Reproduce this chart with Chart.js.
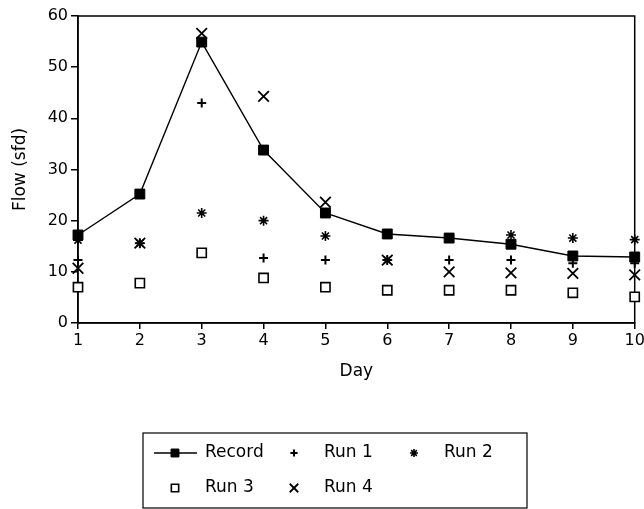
<!DOCTYPE html>
<html>
<head>
<meta charset="utf-8">
<script src="https://cdn.jsdelivr.net/npm/chart.js@4.4.0/dist/chart.umd.min.js"></script>
<style>
  html, body { margin: 0; background: #fff; }
</style>
</head>
<body>
<canvas id="chart" width="644" height="509"></canvas>
<script>
// values
const days = ['1', '2', '3', '4', '5', '6', '7', '8', '9', '10'];
const record = [17.2, 25.2, 54.9, 33.8, 21.5, 17.4, 16.6, 15.4, 13.1, 12.9];
const run1 = [12.3, 15.6, 43.0, 12.7, 12.3, 12.3, 12.3, 12.3, 11.7, 11.7];
const run2 = [16.2, 15.6, 21.5, 20.0, 17.0, 12.3, 16.6, 17.2, 16.6, 16.3];
const run3 = [7.0, 7.8, 13.7, 8.8, 7.0, 6.4, 6.4, 6.4, 5.9, 5.1];
const run4 = [10.7, 15.6, 56.6, 44.3, 23.6, 12.3, 10.0, 9.8, 9.7, 9.4];
const yTicks = [0, 10, 20, 30, 40, 50, 60];

const FONT = 'DejaVu Sans';

function marks(label, data, style, radius, fill, width) {
  return {
    label: label,
    data: data,
    showLine: false,
    borderColor: '#000',
    pointStyle: style,
    pointRadius: radius,
    pointBackgroundColor: fill,
    pointBorderColor: '#000',
    pointBorderWidth: width
  };
}

// box around the plot area (top and right edges included)
const frame = {
  id: 'frame',
  beforeDatasetsDraw(chart) {
    const { ctx, chartArea: a } = chart;
    ctx.save();
    ctx.strokeStyle = '#000';
    ctx.lineWidth = 1.5;
    ctx.strokeRect(a.left, a.top, a.right - a.left, a.bottom - a.top);
    ctx.restore();
  }
};

// boxed legend, 3 columns x 2 rows like the original
const legendBox = {
  id: 'legendBox',
  afterDraw(chart) {
    const ctx = chart.ctx;
    const cols = [175, 294, 414];
    const rows = [453, 488];
    ctx.save();
    ctx.strokeStyle = '#000';
    ctx.lineWidth = 1.2;
    ctx.strokeRect(143, 433, 384, 75);
    ctx.font = '17px "' + FONT + '"';
    ctx.textBaseline = 'middle';
    chart.data.datasets.forEach((ds, i) => {
      const cx = cols[i % 3];
      const cy = rows[Math.floor(i / 3)];
      ctx.strokeStyle = '#000';
      if (ds.showLine !== false) {
        ctx.lineWidth = 1.5;
        ctx.beginPath();
        ctx.moveTo(cx - 21, cy);
        ctx.lineTo(cx + 22, cy);
        ctx.stroke();
      }
      ctx.fillStyle = ds.pointBackgroundColor;
      ctx.lineWidth = ds.pointBorderWidth;
      Chart.helpers.drawPoint(ctx, {
        pointStyle: ds.pointStyle,
        radius: ds.pointRadius * 0.8,
        borderWidth: ds.pointBorderWidth,
        rotation: 0
      }, cx, cy);
      ctx.fillStyle = '#000';
      ctx.fillText(ds.label, cx + 30, cy);
    });
    ctx.restore();
  }
};

new Chart(document.getElementById('chart'), {
  type: 'line',
  data: {
    labels: days,
    datasets: [
      {
        label: 'Record',
        data: record,
        borderColor: '#000',
        borderWidth: 1.4,
        tension: 0,
        pointStyle: 'rect',
        pointRadius: 7,
        pointBackgroundColor: '#000',
        pointBorderColor: '#000',
        pointBorderWidth: 1
      },
      marks('Run 1', run1, 'cross', 4.5, '#000', 2),
      marks('Run 2', run2, 'star', 5, '#000', 1.6),
      marks('Run 3', run3, 'rect', 6.5, '#fff', 1.6),
      marks('Run 4', run4, 'crossRot', 7.5, '#000', 1.8)
    ]
  },
  options: {
    responsive: false,
    animation: false,
    layout: { padding: { top: 16, right: 8, bottom: 126, left: 0 } },
    plugins: {
      legend: { display: false },
      tooltip: { enabled: false }
    },
    scales: {
      x: {
        type: 'category',
        offset: false,
        grid: { drawOnChartArea: false, drawTicks: true, tickLength: 6, color: '#000', lineWidth: 1.5 },
        border: { display: true, color: '#000', width: 1.5 },
        ticks: { color: '#000', font: { family: FONT, size: 16 }, padding: 2, maxRotation: 0, autoSkip: false },
        title: { display: true, text: 'Day', color: '#000', font: { family: FONT, size: 17 }, padding: { top: 0, bottom: 1 } },
        afterFit(s) { s.height = 60; s.paddingLeft = 0; s.paddingRight = 0; }
      },
      y: {
        min: 0,
        max: 60,
        afterBuildTicks(s) { s.ticks = yTicks.map(v => ({ value: v })); },
        grid: { drawOnChartArea: false, drawTicks: true, tickLength: 7, color: '#000', lineWidth: 1.5 },
        border: { display: true, color: '#000', width: 1.5 },
        ticks: { color: '#000', font: { family: FONT, size: 16 }, padding: 3 },
        title: { display: true, text: 'Flow (sfd)', color: '#000', font: { family: FONT, size: 17 }, padding: { top: 10, bottom: 0 } },
        afterFit(s) { s.width = 78; s.paddingTop = 0; s.paddingBottom = 0; }
      }
    }
  },
  plugins: [frame, legendBox]
});
</script>
</body>
</html>
